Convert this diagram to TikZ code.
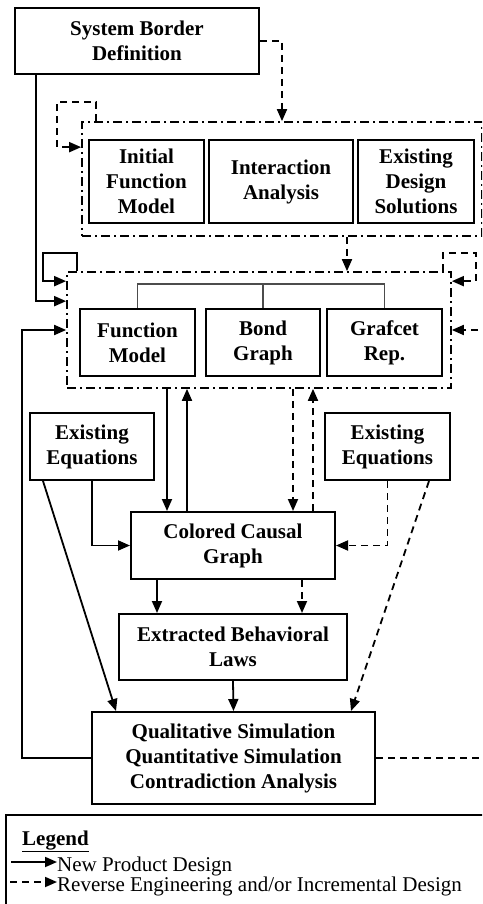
\documentclass[tikz,border=0pt]{standalone}
\usepackage{fontspec}
\setmainfont{Liberation Serif}
\usetikzlibrary{arrows.meta,calc,positioning}

\begin{document}
\begin{tikzpicture}[x=1pt, y=-1pt,
    box/.style={draw, line width=2pt, fill=white, align=center, inner sep=0pt,
      font=\bfseries\fontsize{21}{25}\selectfont},
    grp/.style={draw, line width=1.7pt, dash pattern=on 9pt off 4pt on 2pt off 4pt, inner sep=0pt},
    arr/.style={-{Triangle[length=12pt,width=10pt]}, line width=1.8pt},
    darr/.style={arr, dash pattern=on 7pt off 5pt},
    tree/.style={line width=1.1pt, draw=black!70},
    lgd/.style={anchor=base west, inner sep=0pt, font=\fontsize{21}{21}\selectfont}]
\useasboundingbox (0,0) rectangle (482,904);
\clip (0,0) rectangle (482,904);
\fill[white] (0,0) rectangle (482,904);

% modelling stages
\node[box, minimum width=244pt, minimum height=66pt] (sbd) at (137,41) {System Border\\Definition};
\node[grp, minimum width=400pt, minimum height=114pt] (grp1) at (282,179) {};
\node[box, minimum width=115pt, minimum height=83pt] (ifm) at (146.5,181.5) {Initial\\Function\\Model};
\node[box, minimum width=144pt, minimum height=83pt] (ia) at (281,181.5) {Interaction\\Analysis};
\node[box, minimum width=116pt, minimum height=83pt] (eds) at (416,181.5) {Existing\\Design\\Solutions};

\node[grp, minimum width=384pt, minimum height=116pt] (grp2) at (259,330) {};
\node[box, minimum width=115pt, minimum height=67pt] (fm) at (137.5,342.5) {Function\\Model};
\node[box, minimum width=114pt, minimum height=67pt] (bg) at (263,342.5) {Bond\\Graph};
\node[box, minimum width=115pt, minimum height=67pt] (gr) at (384.5,342.5) {Grafcet\\Rep.};

\node[box, minimum width=124pt, minimum height=67pt] (eqL) at (92,446.5) {Existing\\Equations};
\node[box, minimum width=125pt, minimum height=67pt] (eqR) at (387.5,446.5) {Existing\\Equations};
\node[box, minimum width=204pt, minimum height=67pt] (ccg) at (233,545.5) {Colored Causal\\Graph};
\node[box, minimum width=228pt, minimum height=66pt] (ebl) at (233,647) {Extracted Behavioral\\Laws};
\node[box, minimum width=283pt, minimum height=92pt] (sim) at (233.5,758) {Qualitative Simulation\\Quantitative Simulation\\Contradiction Analysis};

% tree over the three representations
\draw[tree] (fm.north) -- ++(0,-24) -| (gr.north);
\draw[tree] (bg.north) -- ++(0,-24);

% links
\draw[darr] (sbd.east) -| (grp1.north);
\draw[darr] ([xshift=15pt]grp1.north west) -- ++(0,-19) -- ++(-39,0) |- ([yshift=-26pt]grp1.north west);
\draw[darr] ([xshift=65pt]grp1.south) -- ([xshift=88pt]grp2.north);
\draw[arr] ([xshift=22pt]sbd.south west) |- ([yshift=-30pt]grp2.north west);
\draw[arr] ([xshift=11pt]grp2.north west) -- ++(0,-18) -- ++(-34,0) |- ([yshift=-10pt]grp2.north west);
\draw[darr] ([xshift=-9pt]grp2.north east) -- ++(0,-18) -- ++(33,0) |- ([yshift=-10pt]grp2.north east);
\foreach \dx/\st in {-66/arr,60/darr} {
  \draw[\st] ($(grp2.south)+(\dx-26,0)$) -- ($(ccg.north)+(\dx,0)$);
  \draw[\st] ($(ccg.north)+(\dx+20,0)$) -- ($(grp2.south)+(\dx-6,0)$);
}
\draw[arr] (eqL.south) |- (ccg.west);
\draw[darr] (eqR.south) |- (ccg.east);
\foreach \dx/\st in {-76/arr,69/darr}
  \draw[\st] ($(ccg.south)+(\dx,0)$) -- ($(ebl.north)+(\dx,0)$);
\draw[arr] (ebl.south) -- (sim.north);
\draw[arr] ($(eqL.south west)+(14,0)$) -- ($(sim.north west)+(25,0)$);
\draw[darr] ($(eqR.south east)+(-22,0)$) -- ($(sim.north east)+(-25,0)$);
% feedback loops
\draw[arr] (sim.west) -- ++(-69,0) |- (grp2.west);
\draw[darr] (sim.east) -- ++(125,0) |- (grp2.east);

% legend
\node[draw, line width=2pt, minimum width=530pt, minimum height=130pt, anchor=north west, inner sep=0pt] (key) at (5,814) {};
\node[lgd, font=\bfseries\fontsize{21}{21}\selectfont] (keyt) at (22,845) {\underline{Legend}};
\node[lgd] (npd) at (57,871) {New Product Design};
\node[lgd] (rev) at (57,891) {Reverse Engineering and/or Incremental Design};
\draw[arr] ([xshift=-46pt,yshift=9pt]npd.base west) -- ([yshift=9pt]npd.base west);
\draw[darr] ([xshift=-47pt,yshift=9pt]rev.base west) -- ([yshift=9pt]rev.base west);
\end{tikzpicture}
\end{document}
